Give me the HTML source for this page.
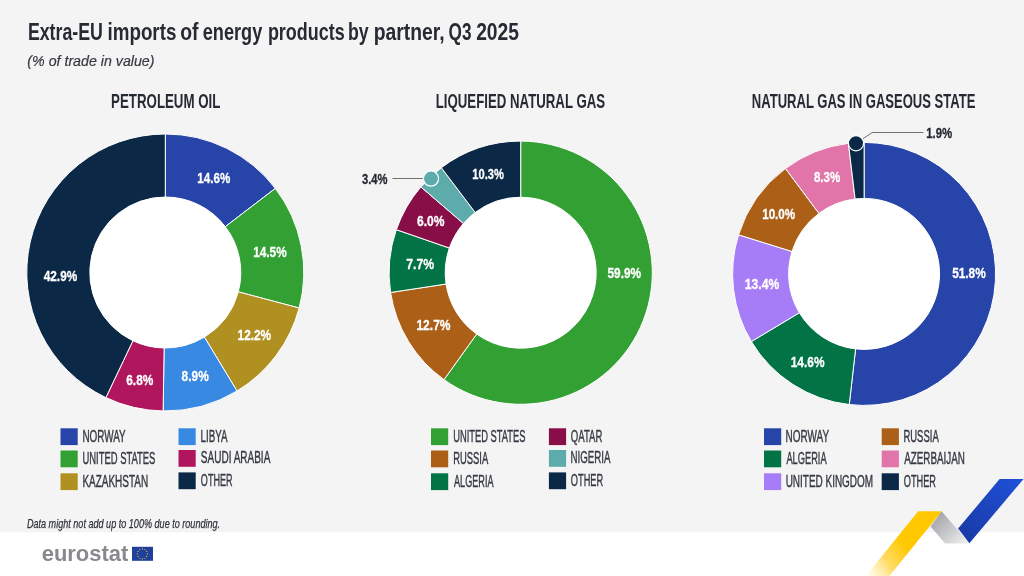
<!DOCTYPE html>
<html><head><meta charset="utf-8"><style>
html,body{margin:0;padding:0;background:#fff;}
svg{display:block;font-family:"Liberation Sans", sans-serif;will-change:transform;}
</style></head><body>
<svg width="1024" height="576" viewBox="0 0 1024 576">
<rect x="0" y="0" width="1024" height="532.5" fill="#f4f4f4"/>
<rect x="0" y="532.5" width="1024" height="43.5" fill="#ffffff"/>
<text x="27.90" y="40" font-size="23.2" font-weight="bold" font-style="normal" fill="#262a33" textLength="74.94" lengthAdjust="spacingAndGlyphs">Extra-EU</text>
<text x="107.48" y="40" font-size="23.2" font-weight="bold" font-style="normal" fill="#262a33" textLength="68.91" lengthAdjust="spacingAndGlyphs">imports</text>
<text x="180.13" y="40" font-size="23.2" font-weight="bold" font-style="normal" fill="#262a33" textLength="18.25" lengthAdjust="spacingAndGlyphs">of</text>
<text x="202.77" y="40" font-size="23.2" font-weight="bold" font-style="normal" fill="#262a33" textLength="59.45" lengthAdjust="spacingAndGlyphs">energy</text>
<text x="267.93" y="40" font-size="23.2" font-weight="bold" font-style="normal" fill="#262a33" textLength="76.69" lengthAdjust="spacingAndGlyphs">products</text>
<text x="348.05" y="40" font-size="23.2" font-weight="bold" font-style="normal" fill="#262a33" textLength="20.68" lengthAdjust="spacingAndGlyphs">by</text>
<text x="373.74" y="40" font-size="23.2" font-weight="bold" font-style="normal" fill="#262a33" textLength="70.98" lengthAdjust="spacingAndGlyphs">partner,</text>
<text x="448.61" y="40" font-size="23.2" font-weight="bold" font-style="normal" fill="#262a33" textLength="22.91" lengthAdjust="spacingAndGlyphs">Q3</text>
<text x="476.13" y="40" font-size="23.2" font-weight="bold" font-style="normal" fill="#262a33" textLength="42.85" lengthAdjust="spacingAndGlyphs">2025</text>
<text x="27.33" y="65.8" font-size="14.4" font-weight="normal" font-style="italic" fill="#363940" textLength="127.15" lengthAdjust="spacingAndGlyphs" stroke="#363940" stroke-width="0.2">(% of trade in value)</text>
<text x="111.10" y="107.6" font-size="19.5" font-weight="bold" font-style="normal" fill="#262a33" textLength="109.29" lengthAdjust="spacingAndGlyphs">PETROLEUM OIL</text>
<text x="435.71" y="108" font-size="19.5" font-weight="bold" font-style="normal" fill="#262a33" textLength="169.41" lengthAdjust="spacingAndGlyphs">LIQUEFIED NATURAL GAS</text>
<text x="751.82" y="108.2" font-size="19.5" font-weight="bold" font-style="normal" fill="#262a33" textLength="223.59" lengthAdjust="spacingAndGlyphs">NATURAL GAS IN GASEOUS STATE</text>
<g stroke="#ffffff" stroke-width="1" stroke-linejoin="round">
<path d="M165.30,134.00A138.5,138.5 0 0 1 275.34,188.40L225.29,226.66A75.5,75.5 0 0 0 165.30,197.00Z" fill="#2744a8"/>
<path d="M275.34,188.40A138.5,138.5 0 0 1 299.16,308.03L238.27,291.87A75.5,75.5 0 0 0 225.29,226.66Z" fill="#33a034"/>
<path d="M299.16,308.03A138.5,138.5 0 0 1 236.99,391.00L204.38,337.10A75.5,75.5 0 0 0 238.27,291.87Z" fill="#b09020"/>
<path d="M236.99,391.00A138.5,138.5 0 0 1 163.12,410.98L164.11,347.99A75.5,75.5 0 0 0 204.38,337.10Z" fill="#3889e2"/>
<path d="M163.12,410.98A138.5,138.5 0 0 1 105.88,397.61L132.91,340.70A75.5,75.5 0 0 0 164.11,347.99Z" fill="#b0165d"/>
<path d="M105.88,397.61A138.5,138.5 0 0 1 165.30,134.00L165.30,197.00A75.5,75.5 0 0 0 132.91,340.70Z" fill="#0b2946"/>
<path d="M520.70,141.10A131.6,131.6 0 1 1 444.02,379.65L476.71,334.06A75.5,75.5 0 1 0 520.70,197.20Z" fill="#33a034"/>
<path d="M444.02,379.65A131.6,131.6 0 0 1 390.59,292.47L446.06,284.04A75.5,75.5 0 0 0 476.71,334.06Z" fill="#ab5f17"/>
<path d="M390.59,292.47A131.6,131.6 0 0 1 396.33,229.68L449.35,248.02A75.5,75.5 0 0 0 446.06,284.04Z" fill="#027345"/>
<path d="M396.33,229.68A131.6,131.6 0 0 1 420.90,186.92L463.44,223.49A75.5,75.5 0 0 0 449.35,248.02Z" fill="#880e48"/>
<path d="M420.90,186.92A131.6,131.6 0 0 1 441.35,167.71L475.18,212.47A75.5,75.5 0 0 0 463.44,223.49Z" fill="#5dabaa"/>
<path d="M441.35,167.71A131.6,131.6 0 0 1 520.70,141.10L520.70,197.20A75.5,75.5 0 0 0 475.18,212.47Z" fill="#0b2946"/>
<path d="M864.10,142.40A131.5,131.5 0 1 1 849.26,404.56L855.58,348.92A75.5,75.5 0 1 0 864.10,198.40Z" fill="#2744a8"/>
<path d="M849.26,404.56A131.5,131.5 0 0 1 751.34,341.55L799.36,312.74A75.5,75.5 0 0 0 855.58,348.92Z" fill="#027345"/>
<path d="M751.34,341.55A131.5,131.5 0 0 1 738.54,234.84L792.01,251.47A75.5,75.5 0 0 0 799.36,312.74Z" fill="#a67df6"/>
<path d="M738.54,234.84A131.5,131.5 0 0 1 785.48,168.49L818.96,213.38A75.5,75.5 0 0 0 792.01,251.47Z" fill="#ab5f17"/>
<path d="M785.48,168.49A131.5,131.5 0 0 1 848.44,143.34L855.11,198.94A75.5,75.5 0 0 0 818.96,213.38Z" fill="#e175a9"/>
<path d="M848.44,143.34A131.5,131.5 0 0 1 864.10,142.40L864.10,198.40A75.5,75.5 0 0 0 855.11,198.94Z" fill="#0b2946"/>
</g>
<circle cx="165.3" cy="272.6" r="75.3" fill="#fff"/>
<circle cx="520.7" cy="272.8" r="75.3" fill="#fff"/>
<circle cx="864.1" cy="274.1" r="75.2" fill="#fff"/>
<text x="197.37" y="182.9" font-size="15.1" font-weight="bold" font-style="normal" fill="#ffffff" textLength="32.92" lengthAdjust="spacingAndGlyphs" stroke="#fff" stroke-width="0.3">14.6%</text>
<text x="253.27" y="257" font-size="15.1" font-weight="bold" font-style="normal" fill="#ffffff" textLength="33.34" lengthAdjust="spacingAndGlyphs" stroke="#fff" stroke-width="0.3">14.5%</text>
<text x="237.56" y="339.9" font-size="15.1" font-weight="bold" font-style="normal" fill="#ffffff" textLength="33.54" lengthAdjust="spacingAndGlyphs" stroke="#fff" stroke-width="0.3">12.2%</text>
<text x="181.61" y="381.2" font-size="15.1" font-weight="bold" font-style="normal" fill="#ffffff" textLength="27.11" lengthAdjust="spacingAndGlyphs" stroke="#fff" stroke-width="0.3">8.9%</text>
<text x="126.25" y="385.2" font-size="15.1" font-weight="bold" font-style="normal" fill="#ffffff" textLength="27.06" lengthAdjust="spacingAndGlyphs" stroke="#fff" stroke-width="0.3">6.8%</text>
<text x="43.72" y="281.4" font-size="15.1" font-weight="bold" font-style="normal" fill="#ffffff" textLength="33.48" lengthAdjust="spacingAndGlyphs" stroke="#fff" stroke-width="0.3">42.9%</text>
<text x="472.30" y="179.2" font-size="15.1" font-weight="bold" font-style="normal" fill="#ffffff" textLength="31.58" lengthAdjust="spacingAndGlyphs" stroke="#fff" stroke-width="0.3">10.3%</text>
<text x="417.05" y="226" font-size="15.1" font-weight="bold" font-style="normal" fill="#ffffff" textLength="27.48" lengthAdjust="spacingAndGlyphs" stroke="#fff" stroke-width="0.3">6.0%</text>
<text x="406.18" y="268.6" font-size="15.1" font-weight="bold" font-style="normal" fill="#ffffff" textLength="27.95" lengthAdjust="spacingAndGlyphs" stroke="#fff" stroke-width="0.3">7.7%</text>
<text x="416.45" y="329.7" font-size="15.1" font-weight="bold" font-style="normal" fill="#ffffff" textLength="34.06" lengthAdjust="spacingAndGlyphs" stroke="#fff" stroke-width="0.3">12.7%</text>
<text x="607.44" y="277.6" font-size="15.1" font-weight="bold" font-style="normal" fill="#ffffff" textLength="33.66" lengthAdjust="spacingAndGlyphs" stroke="#fff" stroke-width="0.3">59.9%</text>
<text x="813.92" y="182.2" font-size="15.1" font-weight="bold" font-style="normal" fill="#ffffff" textLength="26.39" lengthAdjust="spacingAndGlyphs" stroke="#fff" stroke-width="0.3">8.3%</text>
<text x="762.17" y="219" font-size="15.1" font-weight="bold" font-style="normal" fill="#ffffff" textLength="33.03" lengthAdjust="spacingAndGlyphs" stroke="#fff" stroke-width="0.3">10.0%</text>
<text x="744.84" y="288.75" font-size="15.1" font-weight="bold" font-style="normal" fill="#ffffff" textLength="34.47" lengthAdjust="spacingAndGlyphs" stroke="#fff" stroke-width="0.3">13.4%</text>
<text x="790.76" y="366.7" font-size="15.1" font-weight="bold" font-style="normal" fill="#ffffff" textLength="33.75" lengthAdjust="spacingAndGlyphs" stroke="#fff" stroke-width="0.3">14.6%</text>
<text x="952.14" y="277.7" font-size="15.1" font-weight="bold" font-style="normal" fill="#ffffff" textLength="33.56" lengthAdjust="spacingAndGlyphs" stroke="#fff" stroke-width="0.3">51.8%</text>
<text x="361.95" y="184" font-size="15.1" font-weight="bold" font-style="normal" fill="#262a33" textLength="25.55" lengthAdjust="spacingAndGlyphs" stroke="#262a33" stroke-width="0.3">3.4%</text>
<text x="926.19" y="138.1" font-size="15.1" font-weight="bold" font-style="normal" fill="#262a33" textLength="26.02" lengthAdjust="spacingAndGlyphs" stroke="#262a33" stroke-width="0.3">1.9%</text>
<path d="M392.5,178.5H423" stroke="#707070" stroke-width="1" fill="none"/>
<circle cx="431" cy="178.6" r="7.6" fill="#5dabaa" stroke="#fff" stroke-width="1.2"/>
<path d="M862.8,138.8L872.2,132.5H923.5" stroke="#707070" stroke-width="1" fill="none"/>
<circle cx="856" cy="143.3" r="7.6" fill="#0b2946" stroke="#fff" stroke-width="1.2"/>
<rect x="60.5" y="428.3" width="17.2" height="16.8" fill="#2744a8"/>
<text x="82.38" y="441.5" font-size="15.6" font-weight="normal" font-style="normal" fill="#363a43" textLength="43.35" lengthAdjust="spacingAndGlyphs" stroke="#363a43" stroke-width="0.4">NORWAY</text>
<rect x="60.5" y="450.5" width="17.2" height="16.8" fill="#33a034"/>
<text x="82.47" y="463.7" font-size="15.6" font-weight="normal" font-style="normal" fill="#363a43" textLength="72.94" lengthAdjust="spacingAndGlyphs" stroke="#363a43" stroke-width="0.4">UNITED STATES</text>
<rect x="60.5" y="473.3" width="17.2" height="16.8" fill="#b09020"/>
<text x="82.38" y="486.5" font-size="15.6" font-weight="normal" font-style="normal" fill="#363a43" textLength="65.84" lengthAdjust="spacingAndGlyphs" stroke="#363a43" stroke-width="0.4">KAZAKHSTAN</text>
<rect x="178.5" y="428.3" width="17.2" height="16.8" fill="#3889e2"/>
<text x="200.49" y="441.5" font-size="15.6" font-weight="normal" font-style="normal" fill="#363a43" textLength="27.01" lengthAdjust="spacingAndGlyphs" stroke="#363a43" stroke-width="0.4">LIBYA</text>
<rect x="178.5" y="450.0" width="17.2" height="16.8" fill="#b0165d"/>
<text x="200.85" y="463.2" font-size="15.6" font-weight="normal" font-style="normal" fill="#363a43" textLength="69.47" lengthAdjust="spacingAndGlyphs" stroke="#363a43" stroke-width="0.4">SAUDI ARABIA</text>
<rect x="178.5" y="472.4" width="17.2" height="16.8" fill="#0b2946"/>
<text x="200.87" y="485.6" font-size="15.6" font-weight="normal" font-style="normal" fill="#363a43" textLength="31.56" lengthAdjust="spacingAndGlyphs" stroke="#363a43" stroke-width="0.4">OTHER</text>
<rect x="431" y="428.3" width="17.2" height="16.8" fill="#33a034"/>
<text x="453.28" y="441.5" font-size="15.6" font-weight="normal" font-style="normal" fill="#363a43" textLength="72.13" lengthAdjust="spacingAndGlyphs" stroke="#363a43" stroke-width="0.4">UNITED STATES</text>
<rect x="431" y="450.5" width="17.2" height="16.8" fill="#ab5f17"/>
<text x="453.22" y="463.7" font-size="15.6" font-weight="normal" font-style="normal" fill="#363a43" textLength="35.01" lengthAdjust="spacingAndGlyphs" stroke="#363a43" stroke-width="0.4">RUSSIA</text>
<rect x="431" y="473.3" width="17.2" height="16.8" fill="#027345"/>
<text x="453.98" y="486.5" font-size="15.6" font-weight="normal" font-style="normal" fill="#363a43" textLength="39.55" lengthAdjust="spacingAndGlyphs" stroke="#363a43" stroke-width="0.4">ALGERIA</text>
<rect x="548.9" y="428.3" width="17.2" height="16.8" fill="#880e48"/>
<text x="570.84" y="441.5" font-size="15.6" font-weight="normal" font-style="normal" fill="#363a43" textLength="31.60" lengthAdjust="spacingAndGlyphs" stroke="#363a43" stroke-width="0.4">QATAR</text>
<rect x="548.9" y="450.0" width="17.2" height="16.8" fill="#5dabaa"/>
<text x="570.50" y="463.2" font-size="15.6" font-weight="normal" font-style="normal" fill="#363a43" textLength="40.02" lengthAdjust="spacingAndGlyphs" stroke="#363a43" stroke-width="0.4">NIGERIA</text>
<rect x="548.9" y="472.4" width="17.2" height="16.8" fill="#0b2946"/>
<text x="570.86" y="485.6" font-size="15.6" font-weight="normal" font-style="normal" fill="#363a43" textLength="32.28" lengthAdjust="spacingAndGlyphs" stroke="#363a43" stroke-width="0.4">OTHER</text>
<rect x="764" y="428.3" width="17.2" height="16.8" fill="#2744a8"/>
<text x="785.58" y="441.5" font-size="15.6" font-weight="normal" font-style="normal" fill="#363a43" textLength="43.45" lengthAdjust="spacingAndGlyphs" stroke="#363a43" stroke-width="0.4">NORWAY</text>
<rect x="764" y="450.5" width="17.2" height="16.8" fill="#027345"/>
<text x="786.38" y="463.7" font-size="15.6" font-weight="normal" font-style="normal" fill="#363a43" textLength="40.25" lengthAdjust="spacingAndGlyphs" stroke="#363a43" stroke-width="0.4">ALGERIA</text>
<rect x="764" y="473.3" width="17.2" height="16.8" fill="#a67df6"/>
<text x="785.63" y="486.5" font-size="15.6" font-weight="normal" font-style="normal" fill="#363a43" textLength="87.50" lengthAdjust="spacingAndGlyphs" stroke="#363a43" stroke-width="0.4">UNITED KINGDOM</text>
<rect x="881.7" y="428.3" width="17.2" height="16.8" fill="#ab5f17"/>
<text x="903.42" y="441.5" font-size="15.6" font-weight="normal" font-style="normal" fill="#363a43" textLength="35.31" lengthAdjust="spacingAndGlyphs" stroke="#363a43" stroke-width="0.4">RUSSIA</text>
<rect x="881.7" y="450.5" width="17.2" height="16.8" fill="#e175a9"/>
<text x="904.18" y="463.7" font-size="15.6" font-weight="normal" font-style="normal" fill="#363a43" textLength="60.64" lengthAdjust="spacingAndGlyphs" stroke="#363a43" stroke-width="0.4">AZERBAIJAN</text>
<rect x="881.7" y="473.3" width="17.2" height="16.8" fill="#0b2946"/>
<text x="903.76" y="486.5" font-size="15.6" font-weight="normal" font-style="normal" fill="#363a43" textLength="32.17" lengthAdjust="spacingAndGlyphs" stroke="#363a43" stroke-width="0.4">OTHER</text>
<text x="26.93" y="527.6" font-size="12.4" font-weight="normal" font-style="italic" fill="#30333b" textLength="193.20" lengthAdjust="spacingAndGlyphs" stroke="#30333b" stroke-width="0.25">Data might not add up to 100% due to rounding.</text>
<text x="41.72" y="561.4" font-size="22" font-weight="bold" font-style="normal" fill="#88898d" textLength="86.56" lengthAdjust="spacingAndGlyphs">eurostat</text>
<rect x="132" y="546.8" width="21" height="14" fill="#1f3f9e"/>
<circle cx="142.40" cy="548.90" r="0.55" fill="#ffd200"/>
<circle cx="144.90" cy="549.57" r="0.55" fill="#ffd200"/>
<circle cx="146.73" cy="551.40" r="0.55" fill="#ffd200"/>
<circle cx="147.40" cy="553.90" r="0.55" fill="#ffd200"/>
<circle cx="146.73" cy="556.40" r="0.55" fill="#ffd200"/>
<circle cx="144.90" cy="558.23" r="0.55" fill="#ffd200"/>
<circle cx="142.40" cy="558.90" r="0.55" fill="#ffd200"/>
<circle cx="139.90" cy="558.23" r="0.55" fill="#ffd200"/>
<circle cx="138.07" cy="556.40" r="0.55" fill="#ffd200"/>
<circle cx="137.40" cy="553.90" r="0.55" fill="#ffd200"/>
<circle cx="138.07" cy="551.40" r="0.55" fill="#ffd200"/>
<circle cx="139.90" cy="549.57" r="0.55" fill="#ffd200"/>
<defs>
<linearGradient id="yg" x1="922" y1="532" x2="866" y2="574" gradientUnits="userSpaceOnUse"><stop offset="0" stop-color="#ffc800"/><stop offset="0.3" stop-color="#ffc800"/><stop offset="0.65" stop-color="#ffd23a" stop-opacity="0.8"/><stop offset="1" stop-color="#ffe680" stop-opacity="0.1"/></linearGradient>
<linearGradient id="gg" x1="935" y1="515" x2="965" y2="545" gradientUnits="userSpaceOnUse"><stop offset="0" stop-color="#a2a3a8"/><stop offset="1" stop-color="#f0f0f0"/></linearGradient>
<linearGradient id="bgr" x1="965" y1="540" x2="1015" y2="480" gradientUnits="userSpaceOnUse"><stop offset="0" stop-color="#1a3aa6"/><stop offset="1" stop-color="#1f4fd6"/></linearGradient>
</defs>
<polygon points="918.2,511.3 941.8,511.3 889.4,576 865.8,576" fill="url(#yg)"/>
<polygon points="941.6,511.3 969.6,543.4 945,543.4 930.6,526.5" fill="url(#gg)"/>
<polygon points="999.6,479.1 1023.5,479.1 969.4,543.2 958.1,528.6" fill="url(#bgr)"/>
</svg>
</body></html>
